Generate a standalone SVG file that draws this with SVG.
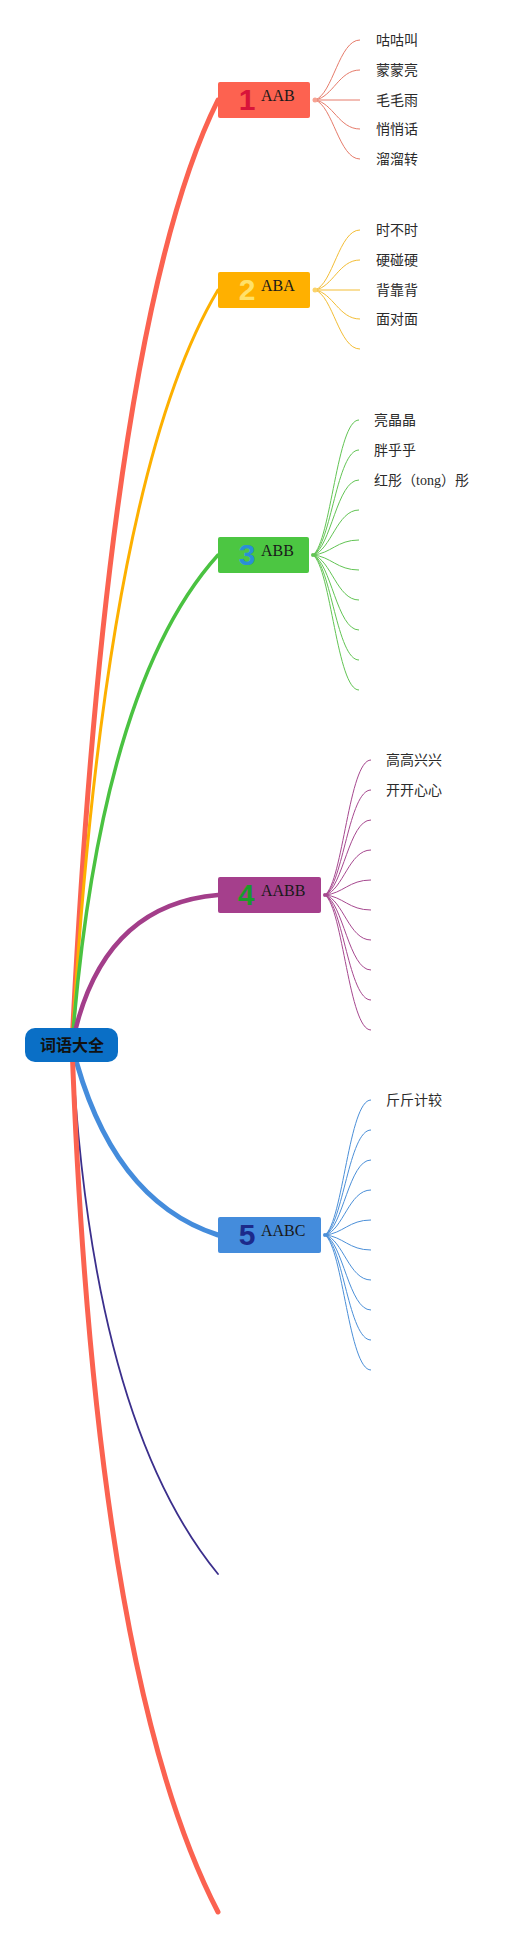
<svg xmlns="http://www.w3.org/2000/svg" width="529" height="1940" viewBox="0 0 529 1940">
<style>
.main{fill:none;stroke-linecap:round}
.sub{fill:none;stroke-width:1}
.box{stroke:none}
.num{font-family:"Liberation Sans","DejaVu Sans",sans-serif;font-weight:bold;font-size:30px;text-anchor:middle}
.lbl{font-family:"Liberation Serif","Times New Roman",serif;font-size:16px;fill:#1a1a1a}
.leaf{font-family:"Noto Sans CJK SC","Noto Sans",sans-serif;font-size:14px;fill:#2a2a2a}
.root{font-family:"Noto Sans CJK SC",sans-serif;font-size:16px;font-weight:bold;fill:#111;text-anchor:middle}
</style>
<rect width="529" height="1940" fill="#ffffff"/>
<g id="connectors">
  <path class="main" d="M72 1045 Q108 320 218 100" stroke="#fb6250" stroke-width="5"/>
  <path class="main" d="M72 1045 Q106 477 218 290" stroke="#fdb000" stroke-width="3"/>
  <path class="main" d="M72 1045 Q100 686 218 555" stroke="#4ac241" stroke-width="3.5"/>
  <path class="main" d="M72 1045 Q100 905 218 895" stroke="#a33e8a" stroke-width="4.5"/>
  <path class="main" d="M72 1045 Q110 1200 218 1235" stroke="#448cdc" stroke-width="5"/>
  <path class="main" d="M72 1045 Q91 1419 218 1574" stroke="#3b2f8c" stroke-width="1.8"/>
  <path class="main" d="M72 1045 Q95 1675 218 1912" stroke="#fb6250" stroke-width="5"/>
  <g stroke="#e67b6a">
    <path class="sub" d="M315 100 C333 94 339 40 360 40"/>
    <path class="sub" d="M315 100 C333 97 339 70 360 70"/>
    <path class="sub" d="M315 100 L360 100" stroke-width="1.5"/>
    <path class="sub" d="M315 100 C333 102.9 339 129 360 129"/>
    <path class="sub" d="M315 100 C333 105.9 339 159 360 159"/>
    <circle cx="315" cy="100" r="2.5" fill="#f7a292" stroke="none"/>
  </g>
  <g stroke="#f3bd35">
    <path class="sub" d="M315 290 C333 284 339 230 360 230"/>
    <path class="sub" d="M315 290 C333 287 339 260 360 260"/>
    <path class="sub" d="M315 290 L360 290" stroke-width="1.5"/>
    <path class="sub" d="M315 290 C333 292.9 339 319 360 319"/>
    <path class="sub" d="M315 290 C333 295.9 339 349 360 349"/>
    <circle cx="315" cy="290" r="2.5" fill="#fbd36a" stroke="none"/>
  </g>
  <g stroke="#62c454">
    <path class="sub" d="M313 555 C331 541.5 337 420 359 420"/>
    <path class="sub" d="M313 555 C331 544.5 337 450 359 450"/>
    <path class="sub" d="M313 555 C331 547.5 337 480 359 480"/>
    <path class="sub" d="M313 555 C331 550.5 337 510 359 510"/>
    <path class="sub" d="M313 555 C331 553.5 337 540 359 540"/>
    <path class="sub" d="M313 555 C331 556.5 337 570 359 570"/>
    <path class="sub" d="M313 555 C331 559.5 337 600 359 600"/>
    <path class="sub" d="M313 555 C331 562.5 337 630 359 630"/>
    <path class="sub" d="M313 555 C331 565.5 337 660 359 660"/>
    <path class="sub" d="M313 555 C331 568.5 337 690 359 690"/>
    <circle cx="313" cy="555" r="2" fill="#62c454" stroke="none"/>
  </g>
  <g stroke="#a6488f">
    <path class="sub" d="M325 895 C343 881.5 349 760 371 760"/>
    <path class="sub" d="M325 895 C343 884.5 349 790 371 790"/>
    <path class="sub" d="M325 895 C343 887.5 349 820 371 820"/>
    <path class="sub" d="M325 895 C343 890.5 349 850 371 850"/>
    <path class="sub" d="M325 895 C343 893.5 349 880 371 880"/>
    <path class="sub" d="M325 895 C343 896.5 349 910 371 910"/>
    <path class="sub" d="M325 895 C343 899.5 349 940 371 940"/>
    <path class="sub" d="M325 895 C343 902.5 349 970 371 970"/>
    <path class="sub" d="M325 895 C343 905.5 349 1000 371 1000"/>
    <path class="sub" d="M325 895 C343 908.5 349 1030 371 1030"/>
    <circle cx="325" cy="895" r="2" fill="#a6488f" stroke="none"/>
  </g>
  <g stroke="#4b8fd8">
    <path class="sub" d="M325 1235 C343 1221.5 349 1100 371 1100"/>
    <path class="sub" d="M325 1235 C343 1224.5 349 1130 371 1130"/>
    <path class="sub" d="M325 1235 C343 1227.5 349 1160 371 1160"/>
    <path class="sub" d="M325 1235 C343 1230.5 349 1190 371 1190"/>
    <path class="sub" d="M325 1235 C343 1233.5 349 1220 371 1220"/>
    <path class="sub" d="M325 1235 C343 1236.5 349 1250 371 1250"/>
    <path class="sub" d="M325 1235 C343 1239.5 349 1280 371 1280"/>
    <path class="sub" d="M325 1235 C343 1242.5 349 1310 371 1310"/>
    <path class="sub" d="M325 1235 C343 1245.5 349 1340 371 1340"/>
    <path class="sub" d="M325 1235 C343 1248.5 349 1370 371 1370"/>
    <circle cx="325" cy="1235" r="2" fill="#4b8fd8" stroke="none"/>
  </g>
</g>
<g id="root">
  <rect x="25" y="1028" width="93" height="34" rx="10" fill="#0a6fc6"/>
  <text class="root" x="72" y="1051">词语大全</text>
</g>
<g id="node1">
  <rect class="box" x="218" y="82" width="92" height="36" rx="2" fill="#fd6250"/>
  <text class="num" x="247" y="110" fill="#d8143a">1</text>
  <text class="lbl" x="261" y="101">AAB</text>
</g>
<g id="node2">
  <rect class="box" x="218" y="272" width="92" height="36" rx="2" fill="#ffb000"/>
  <text class="num" x="247" y="300" fill="#ffe16a">2</text>
  <text class="lbl" x="261" y="291">ABA</text>
</g>
<g id="node3">
  <rect class="box" x="218" y="537" width="91" height="36" rx="2" fill="#4cc642"/>
  <text class="num" x="247" y="565" fill="#2a8fd8">3</text>
  <text class="lbl" x="261" y="556">ABB</text>
</g>
<g id="node4">
  <rect class="box" x="218" y="877" width="103" height="36" rx="2" fill="#a53f8c"/>
  <text class="num" x="246" y="905" fill="#1b9a2c">4</text>
  <text class="lbl" x="261" y="896">AABB</text>
</g>
<g id="node5">
  <rect class="box" x="218" y="1217" width="103" height="36" rx="2" fill="#448cdc"/>
  <text class="num" x="247" y="1245" fill="#1c2a8a">5</text>
  <text class="lbl" x="261" y="1236">AABC</text>
</g>
<g id="leaves1">
  <text class="leaf" x="376" y="45">咕咕叫</text>
  <text class="leaf" x="376" y="75">蒙蒙亮</text>
  <text class="leaf" x="376" y="105">毛毛雨</text>
  <text class="leaf" x="376" y="134">悄悄话</text>
  <text class="leaf" x="376" y="164">溜溜转</text>
</g>
<g id="leaves2">
  <text class="leaf" x="376" y="235">时不时</text>
  <text class="leaf" x="376" y="265">硬碰硬</text>
  <text class="leaf" x="376" y="295">背靠背</text>
  <text class="leaf" x="376" y="324">面对面</text>
</g>
<g id="leaves3">
  <text class="leaf" x="374" y="425">亮晶晶</text>
  <text class="leaf" x="374" y="455">胖乎乎</text>
  <text class="leaf" x="374" y="485">红彤（<tspan font-family="Liberation Serif, serif">tong</tspan>）彤</text>
</g>
<g id="leaves4">
  <text class="leaf" x="386" y="765">高高兴兴</text>
  <text class="leaf" x="386" y="795">开开心心</text>
</g>
<g id="leaves5">
  <text class="leaf" x="386" y="1105">斤斤计较</text>
</g>
</svg>
